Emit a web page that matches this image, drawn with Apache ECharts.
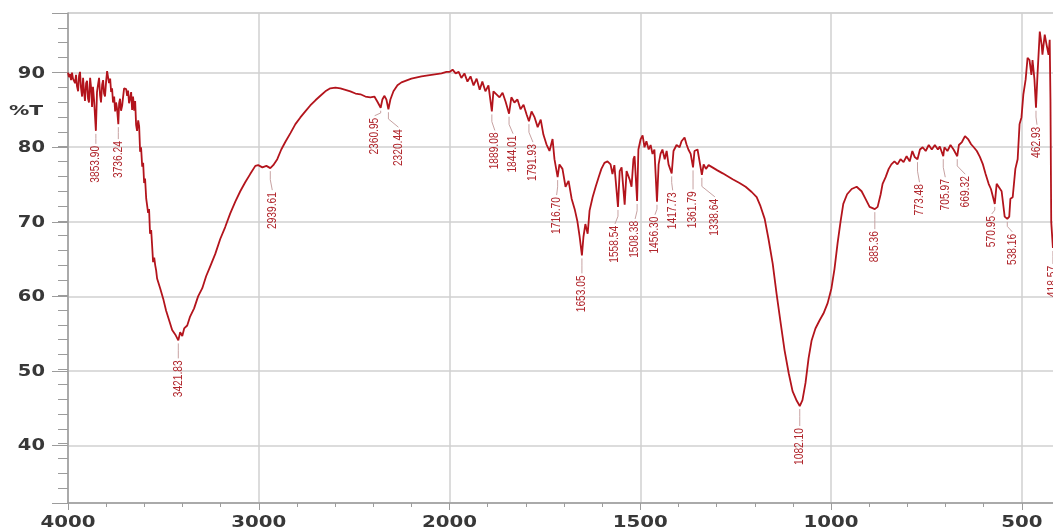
<!DOCTYPE html>
<html>
<head>
<meta charset="utf-8">
<script src="https://cdn.jsdelivr.net/npm/echarts@6/dist/echarts.min.js"></script>
<style>
  html, body { margin: 0; padding: 0; background: #ffffff; }
  #chart { width: 1053px; height: 529px; }
</style>
</head>
<body>
<div id="chart"></div>
<script>
// FTIR transmission spectrum: wavenumber (cm-1) and transmittance (%T)
const wavenumbers = [
  4000, 3995, 3989, 3984, 3979, 3974, 3968, 3963, 3958, 3953, 3947, 3942, 3937, 3932, 3926, 3921,
  3916, 3911, 3905, 3900, 3895, 3890, 3884, 3879, 3874, 3869, 3863, 3853.90, 3848, 3842, 3837, 3832,
  3827, 3821, 3816, 3811, 3806, 3800, 3795, 3790, 3785, 3779, 3774, 3769, 3764, 3758, 3753, 3748,
  3743, 3736.24, 3732, 3727, 3722, 3716, 3711, 3706, 3701, 3695, 3690, 3685, 3680, 3674, 3669, 3664,
  3659, 3653, 3648, 3643, 3638, 3632, 3627, 3622, 3617, 3611, 3606, 3601, 3596, 3590, 3585, 3580,
  3575, 3570, 3564, 3559, 3554, 3548, 3543, 3538, 3533,
  3517, 3501, 3486, 3470, 3454, 3438, 3421.83, 3412, 3401, 3391, 3375, 3360, 3339, 3318, 3296, 3276,
  3255, 3228, 3202, 3176, 3150, 3123, 3097, 3071, 3045, 3018, 3003, 2981, 2960, 2939.61, 2924, 2903,
  2882, 2861, 2834, 2808, 2782, 2756, 2730, 2703, 2677, 2651, 2625, 2598, 2572, 2546, 2520, 2493,
  2467, 2441, 2415, 2394, 2378, 2360.95, 2352, 2342, 2331, 2320.44, 2310, 2294, 2273, 2252, 2200, 2147,
  2095, 2042, 2016, 2000,
  1992, 1984, 1976, 1969, 1961, 1953, 1945, 1937, 1929, 1921, 1914, 1906, 1898, 1889.08, 1885, 1877,
  1869, 1861, 1853, 1844.01, 1838, 1830, 1822, 1814, 1806, 1798, 1791.93, 1785, 1777, 1769, 1761, 1754,
  1746, 1738, 1730, 1725, 1716.70, 1712, 1704, 1696, 1688, 1680, 1672, 1665, 1659, 1653.05, 1649, 1644,
  1638, 1633, 1625, 1617, 1609, 1602, 1594, 1586, 1578, 1573, 1568, 1558.54, 1554, 1549, 1541, 1536,
  1528, 1523, 1518, 1515, 1508.38, 1505, 1499, 1494, 1489, 1484, 1478, 1473, 1468, 1463, 1456.30, 1452,
  1447, 1442, 1436, 1431, 1426, 1417.73, 1413, 1405, 1397, 1392, 1384, 1379, 1374, 1368, 1361.79, 1358,
  1350, 1345, 1338.64, 1334, 1328, 1321, 1311, 1298, 1284, 1271, 1258, 1240, 1224, 1208, 1195, 1185,
  1174, 1164, 1153, 1143, 1132, 1122, 1111, 1101, 1090, 1082.10, 1075, 1067, 1059, 1051, 1041, 1030,
  1020, 1009, 999, 991, 983, 975, 968, 958, 946, 933, 920, 910, 899, 885.36, 878, 870,
  865, 857, 849, 842, 834, 826, 818, 810, 802, 794, 787, 781, 773.48, 767, 760, 752,
  744, 736, 728, 720, 715, 705.97, 703, 695, 687, 679, 669.32, 665, 657, 649, 641, 633,
  626, 618, 610, 602, 595, 587, 581, 570.95, 566, 561, 553, 545, 538.16, 533, 530, 524,
  517, 511, 506, 501, 496, 490, 485, 480, 475, 472, 467, 462.93, 459, 453, 448, 446,
  440, 435, 430, 427, 425, 423, 418.57, 410, 400
];
const transmittance = [
  90.0, 89.4, 89.8, 89.0, 90.0, 89.2, 89.4, 88.6, 89.7, 88.2, 87.5, 89.6, 90.1, 88.0, 86.8, 89.3,
  87.5, 86.2, 88.6, 88.9, 86.5, 86.0, 89.3, 88.0, 85.4, 88.1, 86.2, 82.2, 87.4, 88.5, 89.3, 87.0,
  86.0, 88.4, 89.0, 87.2, 86.8, 88.9, 90.2, 89.4, 88.6, 89.2, 87.4, 87.9, 86.0, 86.8, 84.8, 86.0,
  85.2, 83.1, 85.9, 86.5, 84.9, 85.6, 86.8, 87.9, 88.1, 87.8, 86.9, 87.6, 85.9, 86.6, 87.4, 85.0,
  86.8, 84.9, 86.2, 83.0, 82.2, 83.6, 82.8, 79.4, 80.0, 77.4, 77.9, 75.2, 75.8, 73.1, 73.0, 71.2,
  71.7, 68.4, 68.9, 66.8, 64.6, 65.2, 64.2, 63.5, 62.4,
  61.1, 59.7, 58.1, 56.8, 55.5, 54.9, 54.1, 55.2, 54.7, 55.7, 56.1, 57.3, 58.4, 60.0, 61.1, 62.7,
  64.0, 65.7, 67.7, 69.3, 71.1, 72.7, 74.1, 75.3, 76.4, 77.5, 77.6, 77.3, 77.5, 77.2, 77.6, 78.4,
  79.7, 80.7, 81.9, 83.1, 84.0, 84.8, 85.6, 86.3, 86.9, 87.5, 87.9, 88.0, 87.9, 87.7, 87.5, 87.2,
  87.1, 86.8, 86.7, 86.8, 86.1, 85.3, 86.4, 86.9, 86.4, 85.1, 86.4, 87.5, 88.3, 88.7, 89.2, 89.5,
  89.7, 89.9, 90.1, 90.1,
  90.4, 89.9, 90.1, 89.3, 89.9, 88.8, 89.5, 88.3, 89.2, 87.7, 88.8, 87.5, 88.3, 84.8, 87.5, 87.1,
  86.7, 87.3, 86.1, 84.5, 86.7, 86.0, 86.4, 85.1, 85.7, 84.4, 83.5, 84.8, 84.0, 82.7, 83.7, 81.7,
  80.4, 79.5, 81.1, 78.4, 76.0, 77.7, 77.1, 74.7, 75.5, 73.1, 71.7, 70.1, 68.0, 65.5, 68.0, 69.7,
  68.4, 71.5, 73.3, 74.7, 76.0, 77.1, 77.9, 78.1, 77.7, 76.4, 77.6, 72.0, 76.8, 77.3, 72.3, 76.8,
  75.7, 74.7, 78.4, 78.8, 72.8, 79.7, 81.1, 81.6, 80.0, 80.8, 79.7, 80.3, 79.1, 79.7, 72.7, 77.7,
  79.1, 79.7, 78.4, 79.5, 77.7, 76.5, 79.5, 80.3, 80.0, 80.8, 81.3, 80.4, 79.7, 79.1, 77.3, 79.5,
  79.7, 79.5, 76.3, 77.7, 77.1, 77.6, 77.3, 76.9, 76.5, 76.1, 75.7, 75.2, 74.7, 74.0, 73.3, 72.1,
  70.4, 67.7, 64.4, 60.4, 56.4, 52.8, 49.7, 47.3, 46.0, 45.3, 46.1, 48.4, 51.7, 54.1, 55.7, 56.8,
  57.7, 59.1, 61.1, 63.7, 67.1, 70.1, 72.4, 73.7, 74.4, 74.7, 74.1, 73.1, 72.0, 71.7, 72.0, 73.7,
  75.1, 76.0, 77.1, 77.7, 78.1, 77.7, 78.4, 78.0, 78.8, 78.1, 79.5, 78.7, 78.4, 79.7, 80.0, 79.5,
  80.3, 79.7, 80.3, 79.7, 80.1, 78.8, 80.0, 79.5, 80.3, 79.7, 78.8, 80.3, 80.7, 81.5, 81.1, 80.4,
  80.0, 79.5, 78.7, 77.7, 76.4, 75.1, 74.4, 72.4, 75.1, 75.3, 74.1, 70.7, 70.4, 70.7, 73.1, 73.3,
  77.1, 78.4, 83.1, 84.0, 87.1, 89.1, 92.0, 91.7, 89.7, 91.7, 89.1, 85.3, 89.7, 95.5, 93.7, 92.4,
  95.1, 93.7, 92.4, 94.4, 86.4, 70.0, 66.5, 70.0, 74.0
];

// Picked band positions (cm-1)
const peakWavenumbers = [
  3853.90, 3736.24, 3421.83, 2939.61, 2360.95, 2320.44, 1889.08, 1844.01, 1791.93, 1716.70,
  1653.05, 1558.54, 1508.38, 1456.30, 1417.73, 1361.79, 1338.64, 1082.10, 885.36, 773.48,
  705.97, 669.32, 570.95, 538.16, 462.93, 418.57
];
// Label layout: drop below the band (px) and sideways shift of the label (px)
const labelDrop = [15, 17, 20, 24, 10, 20, 21, 22, 23, 20, 20, 19, 20, 15, 19, 24, 24, 22, 22, 25, 23, 20, 12, 15, 19, 18];
const labelShift = [0, 0, 0, 2, -6, 10, 3, 4, 4, -1, 0, -3, -2, -2, 1, 0, 13, 0, 0, 2, 2, 8, -3, 5, 1, 0];

// Axis tick values
const xTickValues = [4000, 3000, 2000, 1500, 1000, 500];
const yTickValues = [40, 50, 60, 70, 80, 90];
const yTitle = '%T';

const X_MIN = 4000, X_MAX = 400;
const Y_MIN = 32.3, Y_MAX = 98;

// Wavenumber scale is compressed 2:1 above 2000 cm-1
function toAxis(wn) {
  return wn >= 2000 ? 4000 - wn : 2000 + 2 * (2000 - wn);
}

const lineData = wavenumbers.map((w, i) => [toAxis(w), transmittance[i]]);
const peakData = peakWavenumbers.map((w, i) => {
  const k = wavenumbers.indexOf(w);
  return [toAxis(w), transmittance[k], labelDrop[i], labelShift[i]];
});
const peakText = peakWavenumbers.map(w => w.toFixed(2));

const chart = echarts.init(document.getElementById('chart'), null, { renderer: 'canvas' });

const axisGray = '#9c9c9c';
const gridGray = '#d0d0d0';
const tickFont = 'bold 15px "DejaVu Sans", Verdana, sans-serif';
const tickColor = '#383838';

chart.setOption({
  animation: false,
  backgroundColor: '#ffffff',
  grid: {
    left: 68, right: -7, top: 13, bottom: 26,
    outerBoundsMode: 'none',
    containLabel: false,
    show: true, borderColor: '#bdbdbd', borderWidth: 1
  },
  graphic: [{
    type: 'text', x: 9, y: 111, scaleX: 1.45,
    style: { text: yTitle, font: 'bold 14px "DejaVu Sans", Verdana, sans-serif', fill: tickColor, verticalAlign: 'middle' }
  }],
  xAxis: {
    type: 'value', min: toAxis(X_MIN), max: toAxis(X_MAX), interval: 1000,
    axisLine: { show: true, onZero: false, lineStyle: { color: axisGray, width: 1.5 } },
    axisTick: { show: true, length: 7, lineStyle: { color: axisGray } },
    minorTick: { show: true, splitNumber: 5, length: 4, lineStyle: { color: axisGray } },
    splitLine: { show: true, lineStyle: { color: gridGray, width: 1.5 } },
    axisLabel: { show: false }
  },
  yAxis: [{
    type: 'value', min: Y_MIN, max: Y_MAX, splitNumber: 6,
    axisLine: { show: true, lineStyle: { color: axisGray, width: 1.5 } },
    axisTick: { show: true, length: 16, lineStyle: { color: axisGray } },
    splitLine: { show: true, lineStyle: { color: gridGray, width: 1.5 } },
    axisLabel: { show: false }
  }, {
    type: 'value', min: 32, max: Y_MAX, interval: 2, position: 'left',
    axisLine: { show: false },
    axisTick: { show: true, length: 10, lineStyle: { color: axisGray } },
    splitLine: { show: false },
    axisLabel: { show: false }
  }],
  series: [{
    type: 'line',
    data: lineData,
    yAxisIndex: 0,
    showSymbol: false,
    symbol: 'none',
    sampling: null,
    lineStyle: { color: '#b3141c', width: 1.8 },
    z: 3
  }, {
    // band position labels with leader lines
    type: 'custom',
    yAxisIndex: 0,
    data: peakData,
    clip: false,
    silent: true,
    z: 4,
    renderItem: (params, api) => {
      const pt = api.coord([api.value(0), api.value(1)]);
      const drop = api.value(2);
      const dx = api.value(3);
      const x0 = pt[0];
      const y0 = pt[1] + 3;
      const yTop = pt[1] + drop;
      const yMid = y0 + Math.max(2, (yTop - 2 - y0) * 0.45);
      return {
        type: 'group',
        children: [{
          type: 'polyline',
          shape: { points: [[x0, y0], [x0, yMid], [x0 + dx, yTop - 2]] },
          style: { stroke: '#c7a2a2', lineWidth: 1, fill: null }
        }, {
          type: 'text',
          x: x0 + dx,
          y: yTop,
          rotation: Math.PI / 2,
          scaleX: 0.85,
          style: {
            text: peakText[params.dataIndex],
            fill: '#b0262c',
            font: '12px "Liberation Sans", Arial, sans-serif',
            align: 'right',
            verticalAlign: 'middle'
          }
        }]
      };
    }
  }, {
    // wavenumber tick labels
    type: 'custom',
    yAxisIndex: 0,
    data: xTickValues.map(w => [toAxis(w), Y_MIN]),
    clip: false,
    silent: true,
    renderItem: (params, api) => {
      const pt = api.coord([api.value(0), api.value(1)]);
      return {
        type: 'text', x: pt[0], y: pt[1] + 20, scaleX: 1.32,
        style: { text: String(xTickValues[params.dataIndex]), font: tickFont, fill: tickColor, align: 'center', verticalAlign: 'middle' }
      };
    }
  }, {
    // transmittance tick labels
    type: 'custom',
    yAxisIndex: 0,
    data: yTickValues.map(v => [toAxis(X_MIN), v]),
    clip: false,
    silent: true,
    renderItem: (params, api) => {
      const pt = api.coord([api.value(0), api.value(1)]);
      return {
        type: 'text', x: pt[0] - 23, y: pt[1] + 1, scaleX: 1.3,
        style: { text: String(yTickValues[params.dataIndex]), font: tickFont, fill: tickColor, align: 'right', verticalAlign: 'middle' }
      };
    }
  }]
});
</script>
</body>
</html>
